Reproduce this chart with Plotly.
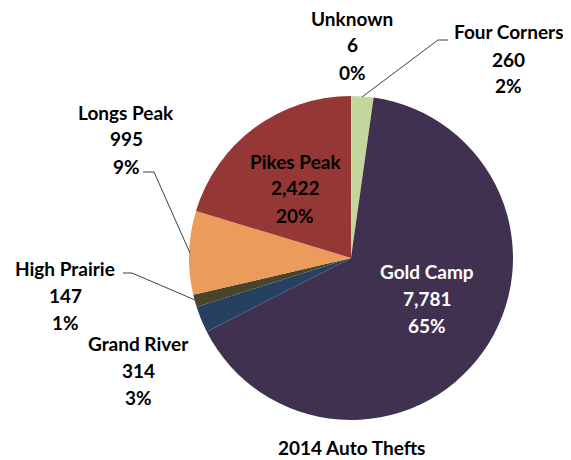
import plotly.graph_objects as go

# ---- data ----
categories = ["Unknown", "Four Corners", "Gold Camp", "Grand River",
              "High Prairie", "Longs Peak", "Pikes Peak"]
thefts = [6, 260, 7781, 314, 147, 995, 2422]
percent_labels = [0, 2, 65, 3, 1, 9, 20]
title_text = "2014 Auto Thefts"

# ---- style / layout ----
PAGE_MARGIN = 8          # default body margin of the html page
W, H = 571 - PAGE_MARGIN, 460 - PAGE_MARGIN
colors = ["#B9CDE5", "#C3D69B", "#403151", "#254061",
          "#4A452A", "#EB9B5C", "#953735"]
text_colors = ["#000000"] * 7
text_colors[2] = "#FFFFFF"
# label centre (window px) for each category: x, y of first line
label_pos = {
    "Unknown": (352, 18),
    "Four Corners": (508, 32),
    "Gold Camp": (427, 271),
    "Grand River": (138, 343),
    "High Prairie": (65, 268),
    "Longs Peak": (126, 112),
    "Pikes Peak": (295, 161),
}
line_gap = 27
leaders = {
    "Four Corners": [(362, 97), (438, 40), (448, 40)],
    "Longs Peak": [(143, 172), (154, 172), (190, 253)],
    "High Prairie": [(123, 273), (132, 273), (195, 300)],
}
FONT = "Lato"
FS = 19

def px(x):
    return (x - PAGE_MARGIN) / W

def py(y):
    return 1 - (y - PAGE_MARGIN) / H

fig = go.Figure(go.Pie(
    labels=categories,
    values=thefts,
    sort=False,
    direction="clockwise",
    rotation=0,
    textinfo="none",
    hoverinfo="label+value+percent",
    marker=dict(colors=colors, line=dict(width=0)),
    domain=dict(x=[px(189), px(513)], y=[py(420), py(96)]),
    showlegend=False,
))

annotations = []
for cat, val, pct, tc in zip(categories, thefts, percent_labels, text_colors):
    x0, y0 = label_pos[cat]
    lines = [cat, f"{val:,}", f"{pct}%"]
    for i, t in enumerate(lines):
        annotations.append(dict(
            x=px(x0), y=py(y0 + i * line_gap), xref="paper", yref="paper",
            text=f"<b>{t}</b>", showarrow=False, xanchor="center", yanchor="middle",
            font=dict(family=FONT, size=FS, color=tc),
        ))

annotations.append(dict(
    x=px(351), y=py(447), xref="paper", yref="paper",
    text=f"<b>{title_text}</b>", showarrow=False, xanchor="center", yanchor="middle",
    font=dict(family=FONT, size=FS, color="#000000"),
))

shapes = []
for cat, pts in leaders.items():
    path = "M " + " L ".join(f"{px(x)},{py(y)}" for x, y in pts)
    shapes.append(dict(type="path", xref="paper", yref="paper", path=path,
                       line=dict(color="#404040", width=1)))

fig.update_layout(
    width=W, height=H,
    margin=dict(l=0, r=0, t=0, b=0),
    paper_bgcolor="white",
    plot_bgcolor="white",
    annotations=annotations,
    shapes=shapes,
)

fig.write_html("out.html")
